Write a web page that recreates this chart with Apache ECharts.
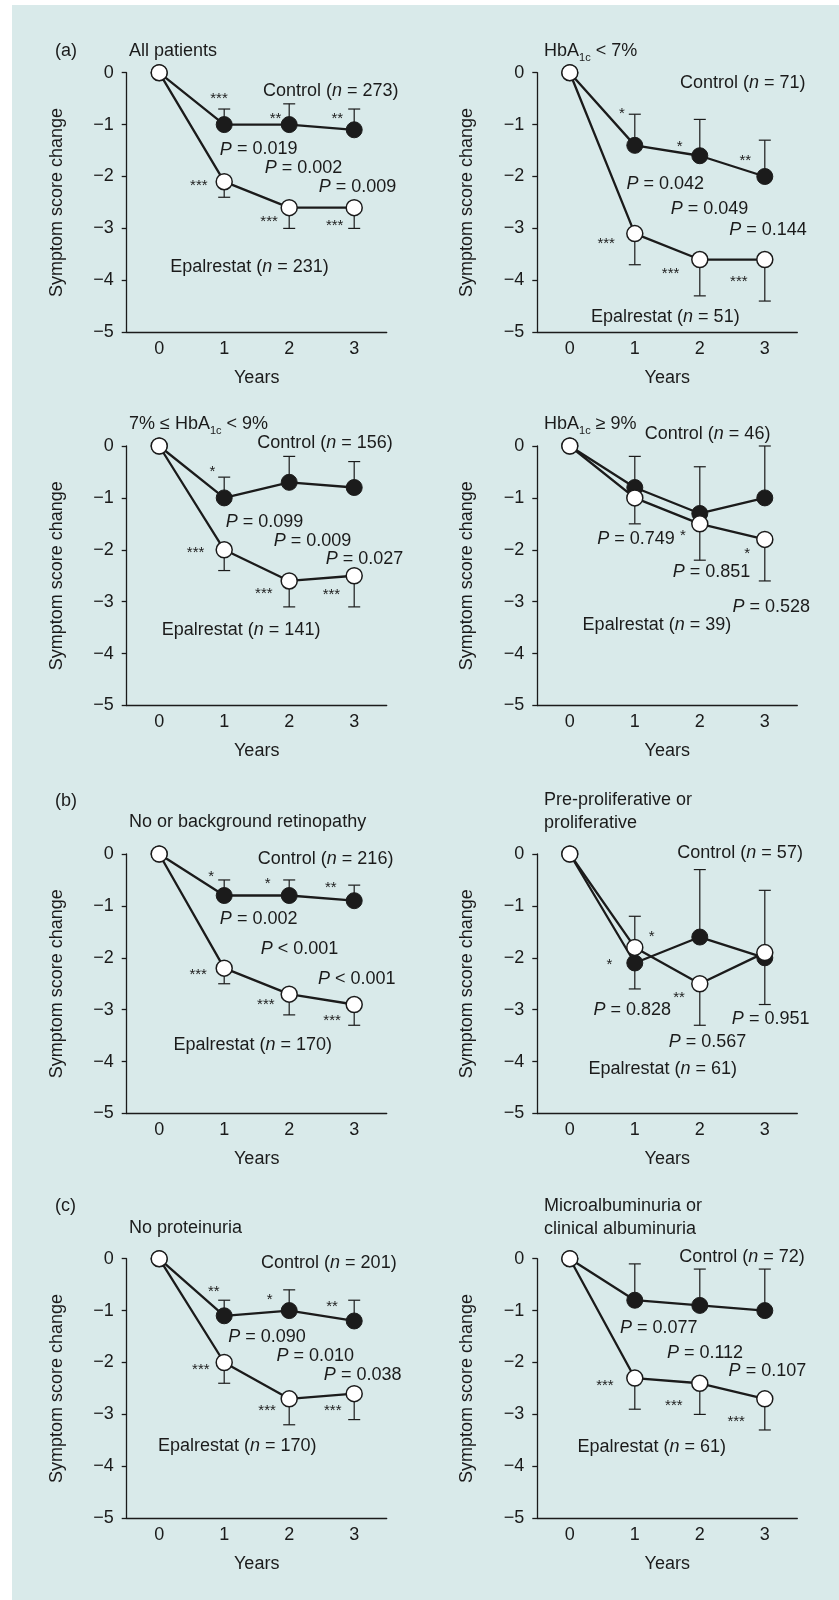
<!DOCTYPE html>
<html>
<head>
<meta charset="utf-8">
<title>Symptom score change</title>
<script src="https://cdn.jsdelivr.net/npm/echarts@6/dist/echarts.min.js"></script>
<style>
  html, body { margin: 0; padding: 0; background: #fff; }
  #wrap { position: relative; width: 839px; height: 1600px; }
  #bg { position: absolute; left: 12px; top: 5px; right: 0; bottom: 0; background: #d9eaea; }
  #chart { position: absolute; left: 0; top: 0; width: 839px; height: 1600px; }
</style>
</head>
<body>
<div id="wrap">
  <div id="bg"></div>
  <div id="chart"></div>
</div>
<script>
// data
const years = [0, 1, 2, 3];
const yTicks = [0, -1, -2, -3, -4, -5];

const panelTitles = [
  'All patients',
  'HbA{s|1c} < 7%',
  '7% \u2264 HbA{s|1c} < 9%',
  'HbA{s|1c} \u2265 9%',
  'No or background retinopathy',
  'Pre-proliferative or\nproliferative',
  'No proteinuria',
  'Microalbuminuria or\nclinical albuminuria'
];
const sectionTags = ['(a)', '', '', '', '(b)', '', '(c)', ''];

const controlN = [273, 71, 156, 46, 216, 57, 201, 72];
const epalN = [231, 51, 141, 39, 170, 61, 170, 61];

const controlMean = [
  [0, -1.0, -1.0, -1.1],
  [0, -1.4, -1.6, -2.0],
  [0, -1.0, -0.7, -0.8],
  [0, -0.8, -1.3, -1.0],
  [0, -0.8, -0.8, -0.9],
  [0, -2.1, -1.6, -2.0],
  [0, -1.1, -1.0, -1.2],
  [0, -0.8, -0.9, -1.0]
];
// end of the (upper) error bar
const controlErr = [
  [null, -0.7, -0.6, -0.7],
  [null, -0.8, -0.9, -1.3],
  [null, -0.6, -0.2, -0.3],
  [null, -0.2, -0.4, 0.0],
  [null, -0.5, -0.5, -0.6],
  [null, -1.2, -0.3, -0.7],
  [null, -0.8, -0.6, -0.8],
  [null, -0.1, -0.2, -0.2]
];
const epalMean = [
  [0, -2.1, -2.6, -2.6],
  [0, -3.1, -3.6, -3.6],
  [0, -2.0, -2.6, -2.5],
  [0, -1.0, -1.5, -1.8],
  [0, -2.2, -2.7, -2.9],
  [0, -1.8, -2.5, -1.9],
  [0, -2.0, -2.7, -2.6],
  [0, -2.3, -2.4, -2.7]
];
// end of the (lower) error bar
const epalErr = [
  [null, -2.4, -3.0, -3.0],
  [null, -3.7, -4.3, -4.4],
  [null, -2.4, -3.1, -3.1],
  [null, -1.5, -2.2, -2.6],
  [null, -2.5, -3.1, -3.3],
  [null, -2.6, -3.3, -2.9],
  [null, -2.4, -3.2, -3.1],
  [null, -2.9, -3.0, -3.3]
];

const pValues = [
  ['= 0.019', '= 0.002', '= 0.009'],
  ['= 0.042', '= 0.049', '= 0.144'],
  ['= 0.099', '= 0.009', '= 0.027'],
  ['= 0.749', '= 0.851', '= 0.528'],
  ['= 0.002', '< 0.001', '< 0.001'],
  ['= 0.828', '= 0.567', '= 0.951'],
  ['= 0.090', '= 0.010', '= 0.038'],
  ['= 0.077', '= 0.112', '= 0.107']
];

const controlStars = [
  ['***', '**', '**'], ['*', '*', '**'], ['*', '', ''], ['', '', ''],
  ['*', '*', '**'], ['*', '', ''], ['**', '*', '**'], ['', '', '']
];
const epalStars = [
  ['***', '***', '***'], ['***', '***', '***'], ['***', '***', '***'], ['', '*', '*'],
  ['***', '***', '***'], ['*', '**', ''], ['***', '***', '***'], ['***', '***', '***']
];

// where the notes sit, in axis units (years, score)
const controlStarAt = [
  [[0.92, -0.42], [1.79, -0.82], [2.74, -0.82]],
  [[0.80, -0.72], [1.69, -1.36], [2.70, -1.62]],
  [[0.82, -0.43], null, null],
  [null, null, null],
  [[0.80, -0.37], [1.67, -0.50], [2.64, -0.58]],
  [[0.61, -2.06], null, null],
  [[0.84, -0.57], [1.70, -0.72], [2.66, -0.85]],
  [null, null, null]
];
const epalStarAt = [
  [[0.61, -2.10], [1.69, -2.80], [2.70, -2.87]],
  [[0.56, -3.22], [1.55, -3.80], [2.60, -3.95]],
  [[0.56, -1.99], [1.61, -2.77], [2.65, -2.79]],
  [null, [1.74, -1.66], [2.73, -2.00]],
  [[0.60, -2.25], [1.64, -2.83], [2.66, -3.13]],
  [[1.26, -1.52], [1.68, -2.70], null],
  [[0.64, -2.07], [1.66, -2.86], [2.67, -2.85]],
  [[0.54, -2.38], [1.60, -2.76], [2.56, -3.06]]
];
const controlNoteAt = [[2.64, -0.35], [2.66, -0.2], [2.55, 0.05], [2.12, 0.23],
  [2.56, -0.10], [2.62, 0.01], [2.61, -0.08], [2.65, 0.03]];
const epalNoteAt = [[1.39, -3.74], [1.47, -4.70], [1.26, -3.55], [1.34, -3.44],
  [1.44, -3.68], [1.43, -4.15], [1.20, -3.60], [1.26, -3.62]];
const pNoteAt = [
  [[1.53, -1.48], [2.22, -1.84], [3.05, -2.21]],
  [[1.47, -2.15], [2.15, -2.63], [3.05, -3.03]],
  [[1.62, -1.47], [2.36, -1.83], [3.16, -2.18]],
  [[1.02, -1.80], [2.18, -2.42], [3.10, -3.11]],
  [[1.53, -1.26], [2.16, -1.83], [3.04, -2.41]],
  [[0.96, -3.00], [2.12, -3.62], [3.09, -3.18]],
  [[1.66, -1.51], [2.40, -1.87], [3.13, -2.25]],
  [[1.37, -1.34], [2.08, -1.82], [3.04, -2.16]]
];

const INK = '#1b1b1b';
const FONT = '"Liberation Sans", Arial, Helvetica, sans-serif';
const gridLefts = [126.7, 537.3];
const gridTops = [72.7, 446, 854, 1258.7];

const chart = echarts.init(document.getElementById('chart'), null, { renderer: 'canvas' });

const grids = [], xAxes = [], yAxes = [], series = [], titles = [];

const errorBar = (idx, means, ends, z) => ({
  type: 'custom',
  xAxisIndex: idx,
  yAxisIndex: idx,
  z: z,
  silent: true,
  data: years.filter((y, i) => ends[i] !== null).map(y => [y, means[y], ends[y]]),
  renderItem: (params, api) => {
    const p1 = api.coord([api.value(0), api.value(1)]);
    const p2 = api.coord([api.value(0), api.value(2)]);
    const st = { stroke: INK, lineWidth: 1.2 };
    return {
      type: 'group',
      children: [
        { type: 'line', shape: { x1: p1[0], y1: p1[1], x2: p2[0], y2: p2[1] }, style: st },
        { type: 'line', shape: { x1: p2[0] - 6, y1: p2[1], x2: p2[0] + 6, y2: p2[1] }, style: st }
      ]
    };
  }
});

const plainLabel = {
  color: INK, fontFamily: FONT, textBorderWidth: 0, textBorderColor: 'transparent',
  textShadowBlur: 0, opacity: 1
};

for (let i = 0; i < 8; i++) {
  const row = Math.floor(i / 2), col = i % 2;
  const left = gridLefts[col], top = gridTops[row];
  grids.push({ left: left, top: top, width: 260, height: 259.5 });

  xAxes.push({
    type: 'value', gridIndex: i, min: -0.5, max: 3.5,
    name: 'Years', nameLocation: 'middle', nameGap: 37,
    nameTextStyle: { fontSize: 18, color: INK, fontFamily: FONT },
    axisLine: { onZero: false, lineStyle: { color: INK, width: 1.3 } },
    axisTick: { show: false },
    splitLine: { show: false },
    axisLabel: { customValues: years, fontSize: 18, color: INK, fontFamily: FONT, margin: 8 }
  });
  yAxes.push({
    type: 'value', gridIndex: i, min: -5, max: 0, interval: 1,
    name: 'Symptom score change', nameLocation: 'middle', nameGap: 61,
    nameTextStyle: { fontSize: 18, color: INK, fontFamily: FONT },
    axisLine: { onZero: false, lineStyle: { color: INK, width: 1.3 } },
    axisTick: { length: 5, lineStyle: { color: INK, width: 1.3 } },
    splitLine: { show: false },
    axisLabel: {
      fontSize: 18, color: INK, fontFamily: FONT, margin: 13,
      customValues: yTicks,
      formatter: v => (v === 0 ? '0' : '\u2212' + Math.abs(v))
    }
  });

  series.push(errorBar(i, controlMean[i], controlErr[i], 2));
  series.push(errorBar(i, epalMean[i], epalErr[i], 2));

  series.push({
    type: 'line', xAxisIndex: i, yAxisIndex: i, z: 3, silent: true,
    data: years.map(y => [y, controlMean[i][y]]),
    symbol: 'circle', symbolSize: 16, showSymbol: true,
    lineStyle: { color: INK, width: 2.3 },
    itemStyle: { color: INK, borderColor: INK, borderWidth: 1 }
  });
  series.push({
    type: 'line', xAxisIndex: i, yAxisIndex: i, z: 4, silent: true,
    data: years.map(y => [y, epalMean[i][y]]),
    symbol: 'circle', symbolSize: 16, showSymbol: true,
    lineStyle: { color: INK, width: 2.3 },
    itemStyle: { color: '#fff', borderColor: INK, borderWidth: 1.5 }
  });

  // significance stars
  const stars = [];
  [[controlStars[i], controlStarAt[i]], [epalStars[i], epalStarAt[i]]].forEach(([txt, at]) => {
    txt.forEach((s, k) => { if (s && at[k]) stars.push({ value: at[k], text: s }); });
  });
  series.push({
    type: 'scatter', xAxisIndex: i, yAxisIndex: i, z: 5, silent: true, clip: false,
    symbolSize: 0, data: stars,
    itemStyle: { color: INK, opacity: 1 },
    label: Object.assign({
      show: true, position: 'inside', offset: [0, 4],
      formatter: p => p.data.text,
      fontSize: 15
    }, plainLabel)
  });

  // group and P labels
  const notes = [
    { value: controlNoteAt[i], text: 'Control ({i|n} = ' + controlN[i] + ')' },
    { value: epalNoteAt[i], text: 'Epalrestat ({i|n} = ' + epalN[i] + ')' }
  ];
  pValues[i].forEach((p, k) => notes.push({ value: pNoteAt[i][k], text: '{i|P} ' + p }));
  series.push({
    type: 'scatter', xAxisIndex: i, yAxisIndex: i, z: 6, silent: true, clip: false,
    symbolSize: 0, data: notes,
    itemStyle: { color: INK, opacity: 1 },
    label: Object.assign({
      show: true, position: 'inside',
      formatter: p => p.data.text,
      fontSize: 18,
      rich: { i: Object.assign({ fontStyle: 'italic', fontSize: 18 }, plainLabel) }
    }, plainLabel)
  });

  const titleStyle = {
    fontSize: 18, fontWeight: 'normal', color: INK, fontFamily: FONT, lineHeight: 23,
    rich: {
      s: { fontSize: 11, color: INK, fontFamily: FONT, verticalAlign: 'bottom', lineHeight: 8 }
    }
  };
  const titleTop = [40, 413, 789, 1195][row] + (col === 1 && (row === 2 || row === 3) ? 0 : (row >= 2 ? 22 : 0));
  titles.push({
    text: panelTitles[i], left: col === 0 ? 129 : 544, top: titleTop, padding: 0,
    textStyle: titleStyle
  });
  if (sectionTags[i]) {
    titles.push({
      text: sectionTags[i], left: 55, top: [40, 413, 790, 1195][row], padding: 0,
      textStyle: titleStyle
    });
  }
}

chart.setOption({
  animation: false,
  backgroundColor: 'transparent',
  textStyle: { fontFamily: FONT },
  title: titles,
  grid: grids,
  xAxis: xAxes,
  yAxis: yAxes,
  series: series
});
</script>
</body>
</html>
